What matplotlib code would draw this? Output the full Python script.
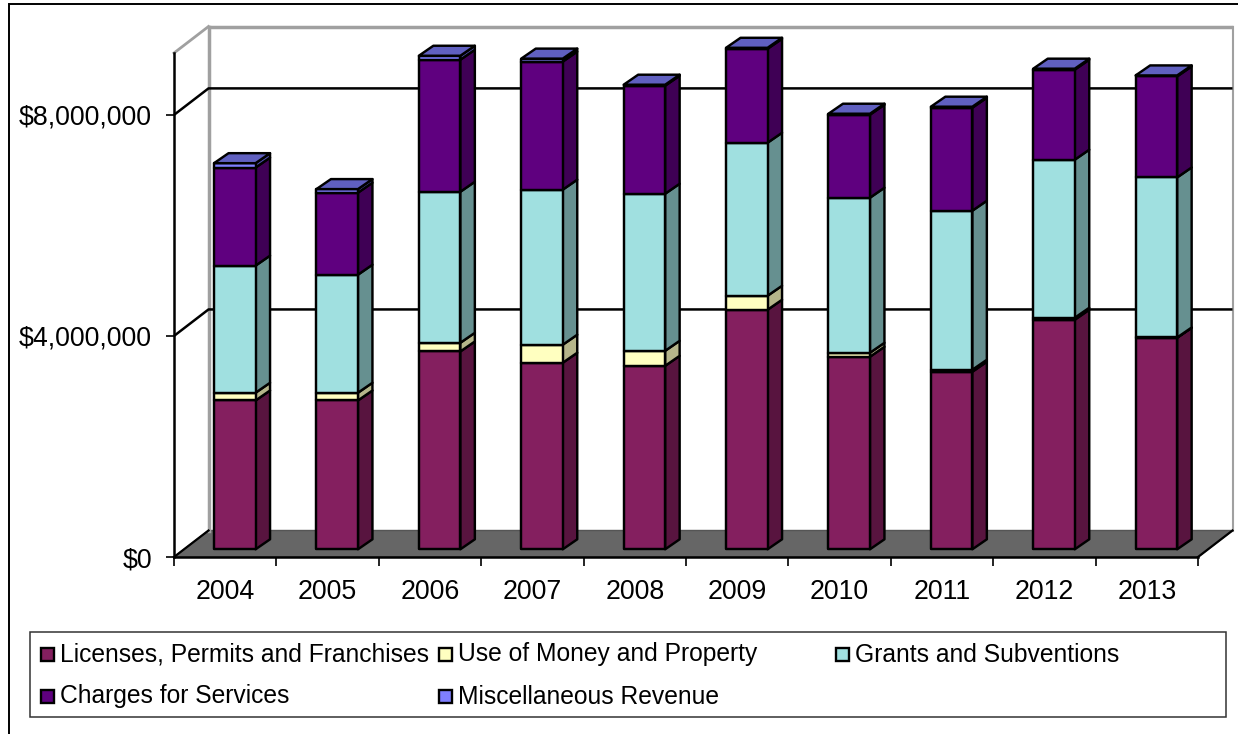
import matplotlib
matplotlib.use('Agg')
import matplotlib.pyplot as plt
from matplotlib.patches import Polygon, Rectangle

years = ['2004', '2005', '2006', '2007', '2008', '2009', '2010', '2011', '2012', '2013']
licenses = [2693000, 2693000, 3580000, 3376000, 3320000, 4335000, 3484000, 3213000, 4154000, 3828000]
use_of_money = [140000, 140000, 157000, 326000, 272000, 253000, 72000, 36000, 36000, 5000]
grants = [2300000, 2136000, 2733000, 2806000, 2842000, 2769000, 2806000, 2878000, 2860000, 2896000]
charges = [1774000, 1484000, 2389000, 2317000, 1955000, 1700000, 1502000, 1864000, 1629000, 1828000]
misc = [80000, 65000, 72000, 54000, 18000, 18000, 18000, 18000, 18000, 18000]
series_names = ['Licenses, Permits and Franchises', 'Use of Money and Property', 'Grants and Subventions',
                'Charges for Services', 'Miscellaneous Revenue']
y_ticks = [0, 4000000, 8000000]

W, H = 1238, 734
plt.rcParams['font.family'] = ['Liberation Sans', 'DejaVu Sans']

# front face colour, side face colour
colors = [('#841f5f', '#58143f'), ('#ffffc0', '#b5b58a'), ('#a0e0e0', '#669090'),
          ('#5f007f', '#3f0055'), ('#7f7fff', '#5050b0')]
top_color = '#6060c0'

fig = plt.figure(figsize=(W / 100, H / 100), dpi=100)
fig.patch.set_facecolor('white')

# axes is the front plane of the fake 3d box, in pixels 174..1198 and 53..557
ax = fig.add_axes([174 / W, 1 - 557 / H, 1024 / W, 504 / H])
ax.set_xlim(-0.5, 9.5)
ax.set_ylim(0, 9120000)
ax.patch.set_visible(False)

# one pixel in data units
px_x = 10 / 1024
px_y = 9120000 / 504


def face(points, color, edge='#000000', lw=1.75, z=3):
    ax.add_patch(Polygon(points, closed=True, facecolor=color, edgecolor=edge, linewidth=lw,
                         clip_on=False, zorder=z, joinstyle='round'))


# box: floor, walls, gridlines
depth_x = 34.5 * px_x
depth_y = 26.5 * px_y
top = 9120000
face([(-0.5, 0), (9.5, 0), (9.5 + depth_x, depth_y), (-0.5 + depth_x, depth_y)], '#666666', edge='#555555', lw=1, z=1)
wall = '#a0a0a0'
ax.plot([-0.5 + depth_x] * 2, [depth_y, top + depth_y], color=wall, lw=2.5, clip_on=False, zorder=1)
ax.plot([9.5 + depth_x] * 2, [depth_y, top + depth_y], color=wall, lw=1.5, clip_on=False, zorder=1)
ax.plot([-0.5 + depth_x, 9.5 + depth_x], [top + depth_y] * 2, color=wall, lw=2.5, clip_on=False, zorder=1,
        solid_capstyle='butt')
ax.plot([-0.5, -0.5 + depth_x], [top, top + depth_y], color=wall, lw=2, clip_on=False, zorder=1)
ax.plot([9.5, 9.5 + depth_x], [0, depth_y], color='#000000', lw=1.6, clip_on=False, zorder=2)
ax.plot([-0.5, -0.5 + depth_x], [0, depth_y], color='#000000', lw=1.6, clip_on=False, zorder=2)
for tick in y_ticks[1:]:
    ax.plot([-0.5, -0.5 + depth_x, 9.5 + depth_x], [tick, tick + depth_y, tick + depth_y],
            color='#000000', lw=1.8, clip_on=False, zorder=2, solid_capstyle='butt')

# stacked bars, front face plus side and top
bar_w = 41.5 * px_x
off_x = 9.6 * px_x
off_y = 7.7 * px_y
bar_dx = 14.5 * px_x
bar_dy = 10 * px_y
series = [licenses, use_of_money, grants, charges, misc]
for i in range(len(years)):
    left = i + off_x - bar_w / 2
    right = left + bar_w
    bottom = off_y
    for values, (front, side) in zip(series, colors):
        upper = bottom + values[i]
        face([(right, bottom), (right + bar_dx, bottom + bar_dy), (right + bar_dx, upper + bar_dy), (right, upper)], side)
        face([(left, bottom), (right, bottom), (right, upper), (left, upper)], front)
        bottom = upper
    face([(left, bottom), (right, bottom), (right + bar_dx, bottom + bar_dy), (left + bar_dx, bottom + bar_dy)], top_color)

# axis lines and ticks
for name in ['top', 'right']:
    ax.spines[name].set_visible(False)
for name in ['left', 'bottom']:
    ax.spines[name].set_linewidth(1.8)
    ax.spines[name].set_zorder(2)
ax.set_yticks(y_ticks)
ax.set_yticklabels(['${:,}'.format(t) for t in y_ticks], fontsize=19.3)
ax.set_xticks(range(len(years)))
ax.set_xticklabels(years, fontsize=19.3)
ax.set_xticks([i - 0.5 for i in range(len(years) + 1)], minor=True)
ax.tick_params(axis='x', which='major', length=0, pad=15.5)
ax.tick_params(axis='x', which='minor', length=6.5, width=1.2)
ax.tick_params(axis='y', length=5.8, width=1.2, pad=10)


# legend and frame are placed in figure pixels
def to_fig(x, y):
    return x / W, 1 - y / H


# frame runs past the right and bottom edges of the image
fig.add_artist(Rectangle(to_fig(8.5, 780), 1300 / W, 776.5 / H, transform=fig.transFigure,
                         facecolor='none', edgecolor='#000000', linewidth=1.4))
fig.add_artist(Rectangle(to_fig(30, 717), 1196 / W, 85 / H, transform=fig.transFigure,
                         facecolor='white', edgecolor='#333333', linewidth=1.1))
legend_x = [40.5, 438.5, 835.5, 40.5, 438.5]
legend_y = [653, 653, 653, 695, 695]
for name, (front, side), lx, ly in zip(series_names, colors, legend_x, legend_y):
    fig.add_artist(Rectangle(to_fig(lx, ly + 7.5), 13 / W, 13 / H, transform=fig.transFigure,
                             facecolor=front, edgecolor='#000000', linewidth=1.7))
    fig.text(*to_fig(lx + 19.5, ly - 1), name, fontsize=17.7, ha='left', va='center_baseline', color='#000000')

fig.savefig('out.png', dpi=100, facecolor='white')
plt.close(fig)
